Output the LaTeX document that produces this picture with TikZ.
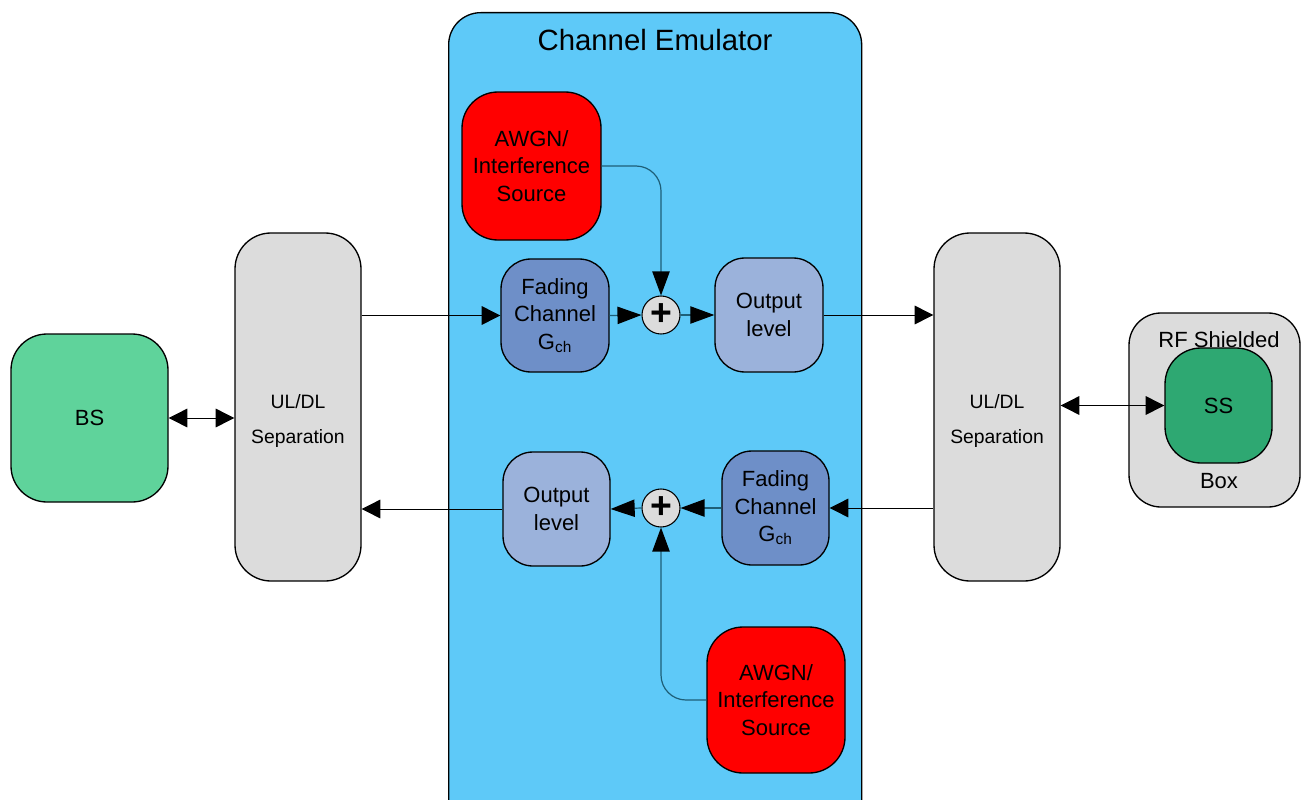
\documentclass[tikz,border=0pt]{standalone}
\usepackage{fontspec}
\setmainfont{Liberation Sans}
\usetikzlibrary{arrows.meta}

\definecolor{emublue}{RGB}{94,201,248}
\definecolor{bsgreen}{RGB}{95,211,155}
\definecolor{ssgreen}{RGB}{46,168,114}
\definecolor{panelgray}{RGB}{220,220,220}
\definecolor{fadeblue}{RGB}{110,143,200}
\definecolor{outblue}{RGB}{155,178,219}
\definecolor{srcred}{RGB}{255,0,0}
\definecolor{linkteal}{RGB}{30,95,120}

\begin{document}
\begin{tikzpicture}[x=0.75pt,y=-0.75pt,
  sz/.style 2 args={minimum width=#1*0.75pt, minimum height=#2*0.75pt},
  blk/.style={draw=black, line width=1pt, inner sep=0pt, align=center,
              font=\fontsize{16.5}{20.5}\selectfont},
  rr/.style={rounded corners=#1*0.75pt},
  lbl/.style={inner sep=0pt, font=\fontsize{16.5}{20.5}\selectfont},
  small/.style={inner sep=0pt, font=\fontsize{14.5}{17}\selectfont},
  sum/.style={circle, draw=black, line width=0.8pt, fill=panelgray, inner sep=0pt,
              minimum size=38*0.75pt, font=\fontsize{28}{28}\selectfont\bfseries},
  tip/.style={-{Triangle[length=14pt,width=14pt,black]}},
  itip/.style={-{Triangle[length=18pt,width=13pt,black]}},
  both/.style={{Triangle[length=14pt,width=14pt,black]}-{Triangle[length=14pt,width=14pt,black]}},
  ext/.style={draw=black, line width=0.75pt},
  int/.style={draw=linkteal, line width=0.9pt}]

\useasboundingbox (0,0) rectangle (1301,799);

% channel emulator housing (runs past the lower edge)
\node[blk, rr=32, fill=emublue, sz={413}{830}, anchor=north west] (emu) at (448,12) {};
\node[inner sep=0pt, font=\fontsize{22}{26}\selectfont] (title) at (655,40) {Channel Emulator};

% base station side
\node[blk, rr=36, fill=bsgreen, sz={157}{168}] (bs) at (89.5,418) {BS};
\node[blk, rr=36, fill=panelgray, sz={126}{348}] (ul1) at (298,407) {};
\node[small] (ul1a) at (298,402) {UL/DL};
\node[small] (ul1b) at (298,438) {Separation};

% subscriber side
\node[blk, rr=36, fill=panelgray, sz={126}{348}] (ul2) at (997,407) {};
\node[small] (ul2a) at (997,402) {UL/DL};
\node[small] (ul2b) at (997,438) {Separation};

\node[blk, rr=32, fill=panelgray, sz={171}{194}] (rf) at (1214.5,410) {};
\node[lbl] (rfa) at (1219,340) {RF Shielded};
\node[blk, rr=36, fill=ssgreen, sz={107}{115}] (ss) at (1218.5,405.5) {SS};
\node[lbl] (rfb) at (1219,481) {Box};

% downlink path
\node[blk, rr=36, fill=srcred, sz={139}{148}] (aw1) at (531.5,166) {AWGN/\\Interference\\Source};
\node[blk, rr=30, fill=fadeblue, sz={108}{113}] (fad1) at (555,315.5) {Fading\\Channel\\G\textsubscript{ch}};
\node[sum] (p1) at (661,315) {+};
\node[blk, rr=30, fill=outblue, sz={108}{114}] (out1) at (769,315) {Output\\level};

% uplink path
\node[blk, rr=30, fill=outblue, sz={107}{114}] (out2) at (556.5,509) {Output\\level};
\node[sum] (p2) at (661,508) {+};
\node[blk, rr=30, fill=fadeblue, sz={107}{114}] (fad2) at (775.5,508) {Fading\\Channel\\G\textsubscript{ch}};
\node[blk, rr=36, fill=srcred, sz={138}{146}] (aw2) at (776,700) {AWGN/\\Interference\\Source};

% connectors
\draw[ext, both] (bs.east) -- (bs.east -| ul1.west);
\draw[ext, tip] (ul1.east |- fad1.west) -- (fad1.west);
\draw[int, itip] (fad1.east) -- (p1.west);
\draw[int, itip] (p1.east) -- (out1.west);
\draw[int, itip, rr=25] (aw1.east) -| (p1.north);
\draw[ext, tip] (out1.east) -- (out1.east -| ul2.west);

\draw[ext, tip] (ul2.west |- fad2.east) -- (fad2.east);
\draw[int, itip] (fad2.west) -- (p2.east);
\draw[int, itip] (p2.west) -- (out2.east);
\draw[int, itip, rr=25] (aw2.west) -| (p2.south);
\draw[ext, tip] (out2.west) -- (out2.west -| ul1.east);

\draw[ext, both] (ul2.east |- ss.west) -- (ss.west);
\end{tikzpicture}
\end{document}
